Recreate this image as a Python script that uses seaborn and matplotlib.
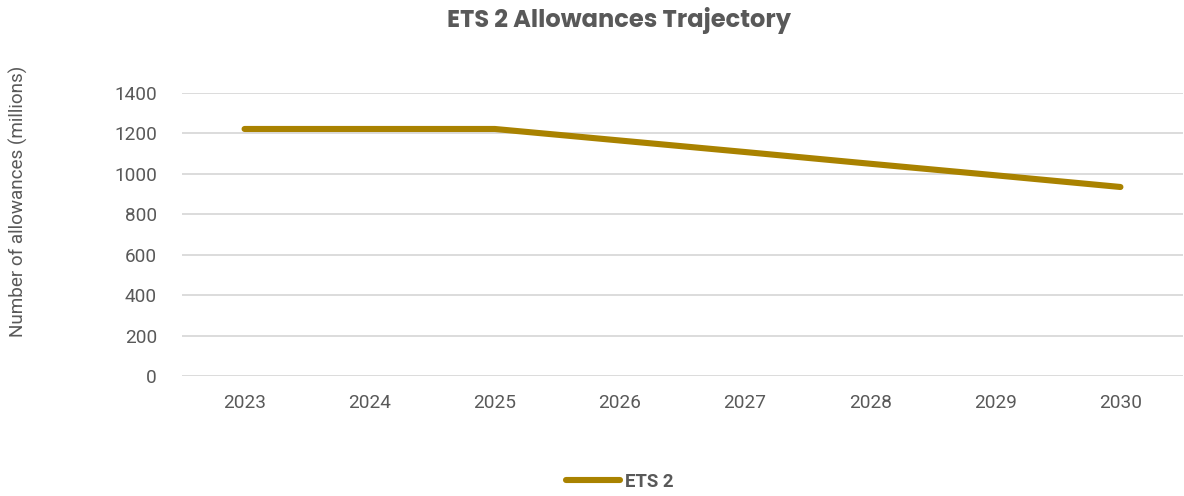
import matplotlib
matplotlib.use("Agg")
import matplotlib.pyplot as plt
import seaborn as sns
import pandas as pd

years = [2023, 2024, 2025, 2026, 2027, 2028, 2029, 2030]
allowances = [1222, 1222, 1222, 1165, 1108, 1050, 993, 935]
series_name = "ETS 2"
title = "ETS 2 Allowances Trajectory"
y_label = "Number of allowances (millions)"
y_ticks = [0, 200, 400, 600, 800, 1000, 1200, 1400]

df = pd.DataFrame({"year": years, "allowances": allowances, "series": series_name})

sns.set_theme(style="white")
plt.rcParams["font.family"] = ["Roboto", "DejaVu Sans"]

line_color = "#A98200"
text_color = "#595959"
grid_color = "#D9D9D9"

fig = plt.figure(figsize=(11.84, 4.96), dpi=100)
ax = fig.add_axes([182 / 1184, 1 - 376 / 496, (1183 - 182) / 1184, (376 - 93) / 496])

sns.lineplot(data=df, x="year", y="allowances", hue="series", palette=[line_color],
             linewidth=4.4, ax=ax, legend=True, solid_capstyle="round")

ax.set_xlim(2022.5, 2030.5)
ax.set_ylim(0, 1400)
ax.set_yticks(y_ticks)
ax.set_xticks(years)
ax.set_xticklabels([str(y) for y in years])
ax.yaxis.grid(True, color=grid_color, linewidth=1.3)
ax.xaxis.grid(False)
ax.set_axisbelow(True)
for s in ax.spines.values():
    s.set_visible(False)
ax.tick_params(axis="both", colors=text_color, labelsize=13.7, length=0)
ax.tick_params(axis="y", pad=18)
ax.tick_params(axis="x", pad=13)
ax.set_xlabel("")
ax.set_ylabel("")

fig.text(18 / 1184, 1 - 201 / 496, y_label, ha="center", va="center", rotation=90,
         color=text_color, fontsize=13.6)

fig.text(619 / 1184, 1 - 20 / 496, title, ha="center", va="center",
         fontsize=17.4, fontweight="bold", color=text_color,
         family=["Poppins", "Lato", "DejaVu Sans"])

handles, labels = ax.get_legend_handles_labels()
ax.legend(handles=handles, labels=labels, loc="center",
          bbox_to_anchor=(620 / 1184, 1 - 482 / 496), bbox_transform=fig.transFigure,
          frameon=False, handlelength=2.9, handletextpad=0.25,
          prop={"size": 13.4, "weight": "bold"}, labelcolor=text_color)
for h in ax.get_legend().get_lines():
    h.set_solid_capstyle("round")

fig.savefig("out.png", dpi=100, facecolor="white")
